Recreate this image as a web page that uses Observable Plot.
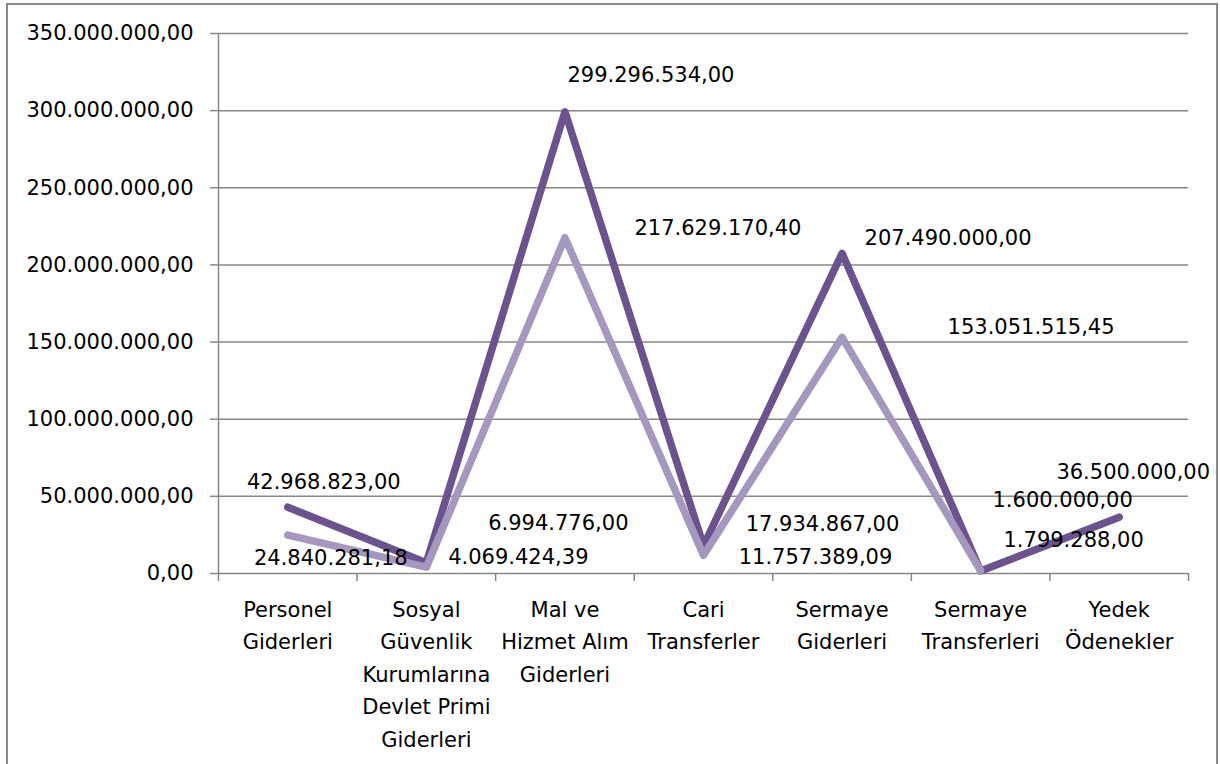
<!DOCTYPE html>
<html><head><meta charset="utf-8">
<script src="https://cdn.jsdelivr.net/npm/d3@7"></script>
<script src="https://cdn.jsdelivr.net/npm/@observablehq/plot@0.6"></script>
<style>
body{margin:0;background:#fff;}
#wrap{position:relative;width:1220px;height:764px;overflow:hidden;background:#fff;}
#border{position:absolute;left:6px;top:3px;width:1212px;height:800px;border:2px solid #8a8a8a;box-sizing:border-box;pointer-events:none;}
</style></head><body>
<div id="wrap"><div id="chart"></div><div id="border"></div></div>
<script>
const categories = [
  "Personel\nGiderleri",
  "Sosyal\nGüvenlik\nKurumlarına\nDevlet Primi\nGiderleri",
  "Mal ve\nHizmet Alım\nGiderleri",
  "Cari\nTransferler",
  "Sermaye\nGiderleri",
  "Sermaye\nTransferleri",
  "Yedek\nÖdenekler"
];
const series1 = [42968823.00, 6994776.00, 299296534.00, 17934867.00, 207490000.00, 1600000.00, 36500000.00];
const series2 = [24840281.18, 4069424.39, 217629170.40, 11757389.09, 153051515.45, 1799288.00, null];
const yTicks = [0, 50000000, 100000000, 150000000, 200000000, 250000000, 300000000, 350000000];

// label placement offsets (px) relative to each point
const labelOffsets1 = [[36,-25],[132,-39],[86,-36],[119,-22],[106,-15],[82,-71],[14,-45]];
const labelOffsets2 = [[43,23],[92,-10],[153,-9],[112,2],[189,-10],[93,-30],null];

const colorDark = "#6C538E";
const colorLight = "#A597BD";
const gridColor = "#878787";

const tr = d3.formatLocale({decimal: ",", thousands: ".", grouping: [3], currency: ["", ""]});
const fmt = tr.format(",.2f");

const idx = categories.map((_, i) => i);
const boundaries = d3.range(categories.length + 1).map(i => i - 0.5);
const d1 = series1.map((v, i) => ({i, v}));
const d2 = series2.map((v, i) => ({i, v}));

const labelMarks = [];
[[d1, labelOffsets1], [d2, labelOffsets2]].forEach(([data, offs]) => {
  data.forEach((d, k) => {
    if (d.v == null || !offs[k]) return;
    labelMarks.push(Plot.text([d], {
      x: "i", y: "v", text: p => fmt(p.v),
      dx: offs[k][0], dy: offs[k][1],
      textAnchor: "middle", lineAnchor: "middle", fill: "black"
    }));
  });
});

const chart = Plot.plot({
  width: 1220,
  height: 764,
  marginLeft: 218,
  marginRight: 32,
  marginTop: 33,
  marginBottom: 191,
  style: {fontFamily: "'DejaVu Sans', sans-serif", fontSize: "21px", color: "black", background: "white"},
  x: {type: "linear", domain: [-0.5, categories.length - 0.5]},
  y: {type: "linear", domain: [0, 350000000]},
  marks: [
    Plot.gridY(yTicks, {stroke: gridColor, strokeOpacity: 1, strokeWidth: 1.5}),
    Plot.axisY({ticks: yTicks, tickFormat: fmt, tickSize: 8, tickPadding: 17, stroke: gridColor, strokeWidth: 1.5, fill: "black", label: null}),
    Plot.ruleX([-0.5], {y1: 0, y2: 350000000, stroke: gridColor, strokeWidth: 1.5}),
    Plot.axisX({ticks: boundaries, tickSize: 8, tickFormat: () => "", stroke: gridColor, strokeWidth: 1.5, label: null}),
    Plot.text(idx, {x: d => d, y: () => 0, text: d => categories[d], lineAnchor: "top", dy: 20, lineHeight: 1.55, textAnchor: "middle", fill: "black"}),
    Plot.line(d1, {x: "i", y: "v", stroke: colorDark, strokeWidth: 7.5, strokeLinecap: "round", strokeLinejoin: "round"}),
    Plot.line(d2, {x: "i", y: "v", stroke: colorLight, strokeWidth: 7.5, strokeLinecap: "round", strokeLinejoin: "round"}),
    ...labelMarks
  ]
});
document.getElementById("chart").appendChild(chart);
</script>
</body></html>
